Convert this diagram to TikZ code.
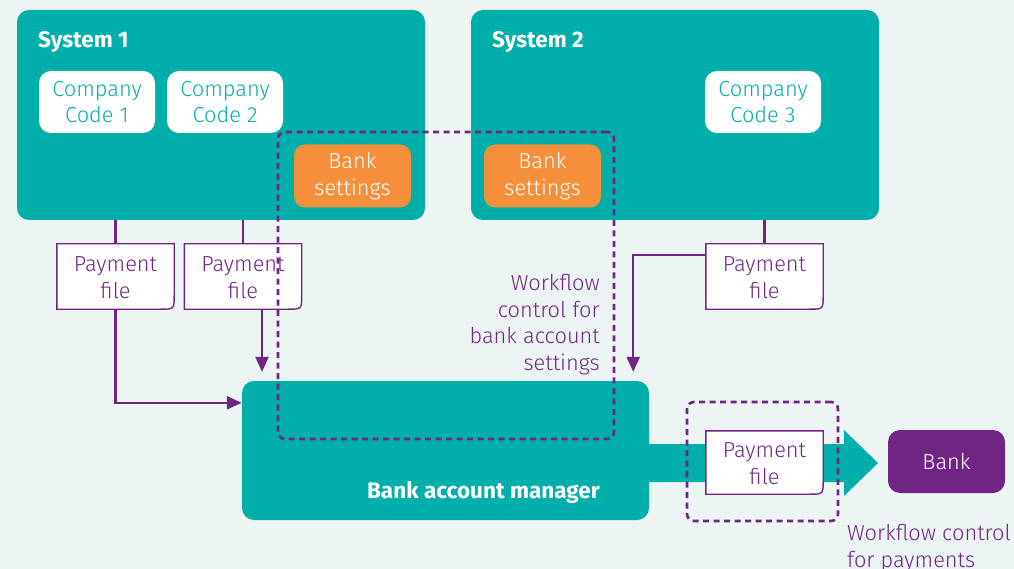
\documentclass[tikz,border=0pt]{standalone}
\usepackage{fontspec}
\setmainfont{Fira Sans}[UprightFont={* Light},BoldFont={* Bold}]
\usetikzlibrary{arrows.meta,calc}
\definecolor{bgc}{HTML}{ECF5F3}
\definecolor{tealc}{HTML}{00AFA9}
\definecolor{purp}{HTML}{702585}
\definecolor{orng}{HTML}{F68F3B}
\newcommand\pfshape[1]{\draw[pfline] (#1.north west) -- (#1.north east) -- ($(#1.south east)-(0,14)$) .. controls (#1.south east) .. ($(#1.south east)-(14,0)$) -- (#1.south west) -- cycle;}
\begin{document}
\begin{tikzpicture}[x=1pt,y=-1pt,
  font=\fontsize{21.8}{26.5}\selectfont,
  sysbox/.style={fill=tealc, rounded corners=12pt, minimum width=408, minimum height=210, inner sep=0},
  ccbox/.style={fill=white, text=tealc, rounded corners=12pt, minimum width=116, minimum height=62, inner sep=0, align=center},
  bsbox/.style={fill=orng, text=white, rounded corners=11pt, minimum width=117, minimum height=63, inner sep=0, align=center},
  pfbox/.style={minimum width=117, minimum height=65, inner sep=0},
  pftxt/.style={text=purp, align=center, inner sep=0},
  pfline/.style={draw=purp, fill=white, line width=1.4pt},
  title/.style={text=white, font=\fontsize{22.5}{26}\selectfont\bfseries, inner sep=0},
  conn/.style={draw=purp, line width=2.4pt},
  arr/.style={conn, -{Triangle[length=15pt,width=13pt]}},
  dbox/.style={draw=purp, line width=2.6pt, dash pattern=on 6pt off 4.5pt, rounded corners=7pt, inner sep=0},
  lbl/.style={text=purp, inner sep=0},
]
\useasboundingbox (0,0) rectangle (1014,569);
\fill[bgc] (0,0) rectangle (1014,569);

% systems
\node[sysbox] (s1) at (221,115) {};
\node[sysbox] (s2) at (675,115) {};
\node[title, anchor=base west] (s1t) at (38,48) {System 1};
\node[title, anchor=base west] (s2t) at (492,48) {System 2};
\node[ccbox] (cc1) at (97,102) {Company\\Code 1};
\node[ccbox] (cc2) at (225,102) {Company\\Code 2};
\node[ccbox] (cc3) at (763,102) {Company\\Code 3};
\node[bsbox] (bs1) at (352.5,176) {Bank\\settings};
\node[bsbox] (bs2) at (542.5,176) {Bank\\settings};

% bank account manager
\node[fill=tealc, rounded corners=12pt, minimum width=407, minimum height=139, inner sep=0] (bam) at (445.5,450.5) {};
\node[title, anchor=base east] (bamt) at (600,498) {Bank account manager};

% big arrow to bank
\fill[tealc] (640,444) -- (844,444) -- (844,430) -- (878,463) -- (844,496) -- (844,482) -- (640,482) -- cycle;
\node[fill=purp, text=white, rounded corners=12pt, minimum width=117, minimum height=63, inner sep=0] (bank) at (946.5,461.5) {Bank};

% payment files
\node[pfbox] (pf1) at (115.5,276.5) {};
\node[pfbox] (pf2) at (243,276.5) {};
\node[pfbox] (pf3) at (764.5,276.5) {};
\node[pfbox, minimum height=63] (pf4) at (764.5,462.5) {};
\pfshape{pf1}\pfshape{pf2}\pfshape{pf3}\pfshape{pf4}
\node[pftxt] (pf1t) at ($(pf1)+(0,1)$) {Payment\\file};
\node[pftxt] (pf2t) at ($(pf2)+(0,1)$) {Payment\\file};
\node[pftxt] (pf3t) at ($(pf3)+(0,1)$) {Payment\\file};
\node[pftxt] (pf4t) at ($(pf4)+(0,1)$) {Payment\\file};

% connectors
\draw[conn] (s1.south -| pf1.north) -- (pf1.north);
\draw[conn] (s1.south -| pf2.north) -- (pf2.north);
\draw[conn] (s2.south -| pf3.north) -- (pf3.north);
\draw[arr] (pf1.south) |- ($(bam.north west)+(0,22)$);
\coordinate (a2) at ($(pf2.south)+(19,0)$);
\draw[arr, shorten >=9pt] (a2) -- (a2 |- bam.north);
\draw[arr, shorten >=9pt] ($(pf3.north west)+(0,11)$) -| ($(bam.north east)+(-16,0)$);

% workflow controls
\node[dbox, minimum width=336, minimum height=307] (wf1) at (446,285.5) {};
\node[dbox, minimum width=151, minimum height=119] (wf2) at (762.5,461.5) {};
\node[lbl, anchor=north east, align=right] (wf1t) at (600,274.5) {Workflow\\control for\\bank account\\settings};
\node[lbl, anchor=north west, align=left] (wf2t) at (847,524.5) {Workflow control\\for payments};
\end{tikzpicture}
\end{document}
